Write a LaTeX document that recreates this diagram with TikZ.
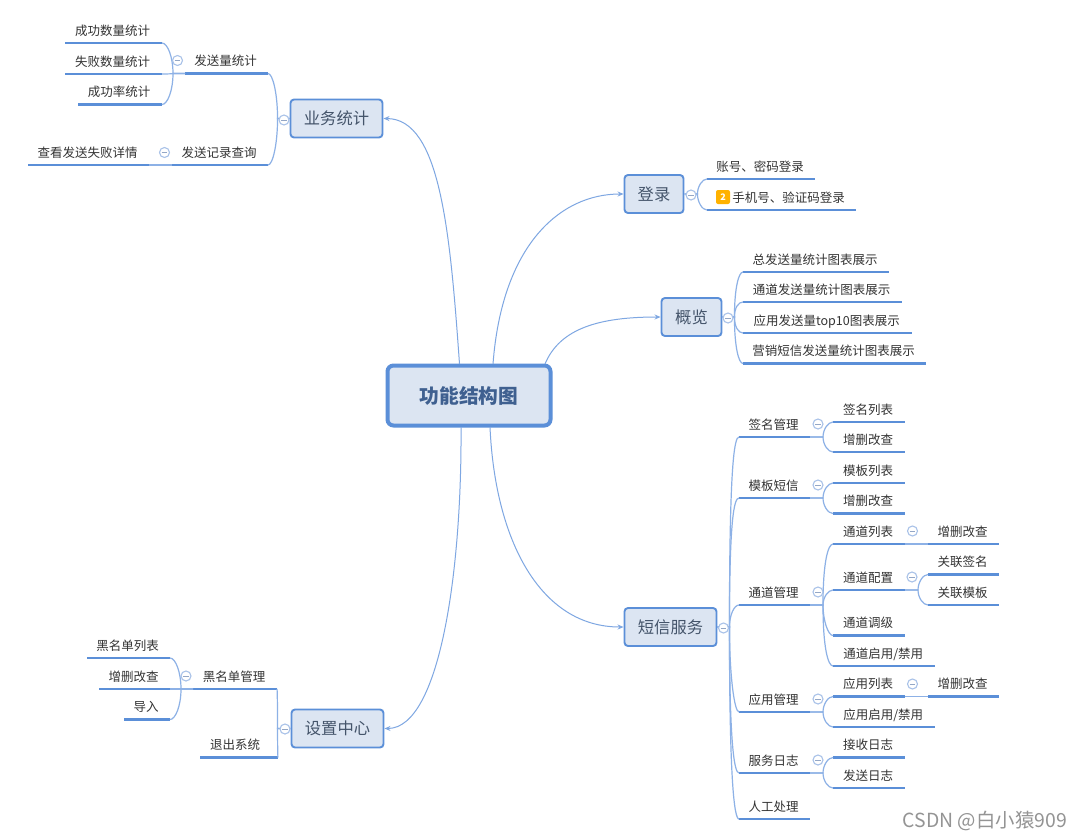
\documentclass[tikz,border=0pt]{standalone}
\usepackage{fontspec}
\setmainfont{Noto Sans CJK SC}
\usetikzlibrary{arrows.meta,calc}
\definecolor{lineblue}{HTML}{5B8FD8}
\definecolor{branchblue}{HTML}{8DB1E6}
\definecolor{boxfill}{HTML}{DCE5F2}
\definecolor{boxtext}{HTML}{44546A}
\definecolor{roottext}{HTML}{3F6090}
\definecolor{leaftext}{HTML}{333333}
\definecolor{foldline}{HTML}{A9C2E8}
\definecolor{foldminus}{HTML}{94A7C6}
\tikzset{
  topic/.style={inner sep=0pt,outer sep=0pt,minimum height=24,anchor=south west,
    font=\fontsize{12.5}{14}\selectfont,text=leaftext,text height=10.5,text depth=2},
  uline/.style={draw=lineblue,line width=2.8},
  branch/.style={draw=branchblue,line width=1.2},
  mainlink/.style={draw=branchblue!70!lineblue,line width=1,-{Stealth[length=6,width=5]}},
  boxl/.style={draw=lineblue,fill=boxfill,line width=1.9,rounded corners=3.5,inner sep=0pt,
    font=\fontsize{16.3}{18}\selectfont,text=boxtext},
  rootbox/.style={draw=lineblue,fill=boxfill,line width=4,rounded corners=6,inner sep=0pt,
    font=\fontsize{19.7}{22}\selectfont\bfseries,text=roottext},
  fold/.style={circle,draw=foldline,fill=white,line width=1.1,minimum size=10,inner sep=0pt,
    path picture={\draw[foldminus,line width=.8] ([xshift=-2.8pt]path picture bounding box.center) -- ([xshift=2.8pt]path picture bounding box.center);}},
  badge/.style={fill=orange!60!yellow,rounded corners=2,minimum size=14,inner sep=0pt,
    font=\fontsize{9}{10}\selectfont\bfseries,text=white},
  mark text/.style={font=\fontsize{19.4}{22}\selectfont,text=black!42,inner sep=0pt}
}
% how far along the spine the bend starts (set before a group of branches)
\newcommand{\bendat}{.5}
% shared curve: from (s), up or down the spine, into the child's line end
\newcommand{\bendto}[1]{.. controls ($(s)!\bendat!(s |- #1)$) and ($(s |- #1)!.5!(#1)$) .. (#1)}
% \topic{name}{x1}{x2}{y}{text}
\newcommand{\topic}[5]{%
  \node[topic,minimum width={#3-#2}] (#1) at (#2,#4) {\kern-1.6pt #5};
  \draw[uline] (#1.south west) -- (#1.south east);}
% right-going branch from a topic to a child
\newcommand{\rbr}[3]{\draw[branch] (#1.south east) -- ++(#3,0) coordinate (s) \bendto{#2.south west};}
% left-going branch from a topic to a child
\newcommand{\lbr}[3]{\draw[branch] (#1.south west) -- ++(-#3,0) coordinate (s) \bendto{#2.south east};}
% branches from a box
\newcommand{\rbx}[3]{\draw[branch] (#1.east) -- ++(#3,0) coordinate (s) \bendto{#2.south west};}
\newcommand{\lbx}[3]{\draw[branch] (#1.west) -- ++(-#3,0) coordinate (s) \bendto{#2.south east};}
\begin{document}
\begin{tikzpicture}[x=1pt,y=-1pt]
\useasboundingbox (0,0) rectangle (1082,839);
\fill[white] (0,0) rectangle (1082,839);

% root and first level
\node[rootbox,minimum width=163,minimum height=60] (root) at (469,395.5) {功能结构图};
\node[boxl,minimum width=59,minimum height=38] (login) at (654,194) {登录};
\node[boxl,minimum width=60,minimum height=38] (over) at (691.5,317) {概览};
\node[boxl,minimum width=92,minimum height=38] (sms) at (670.5,627) {短信服务};
\node[boxl,minimum width=92,minimum height=38] (stat) at (336.5,118.5) {业务统计};
\node[boxl,minimum width=92,minimum height=38] (setc) at (337.5,728.5) {设置中心};

\coordinate (ra) at (459.5,364);
\coordinate (rb) at (493,364);
\coordinate (rc) at (545,364);
\coordinate (rd) at (490,427);
\coordinate (re) at (461,427);
\draw[mainlink] (ra) .. controls (450,230) and (440,119) .. (stat.east);
\draw[mainlink] (rb) .. controls (502,245) and (560,194) .. (login.west);
\draw[mainlink] (rc) .. controls (560,328) and (600,317) .. (over.west);
\draw[mainlink] (rd) .. controls (495,540) and (540,627) .. (sms.west);
\draw[mainlink] (re) .. controls (462,570) and (440,728) .. (setc.east);

% login
\topic{la}{707}{815}{179}{账号、密码登录}
\topic{lb}{707}{856}{210}{\hspace*{16pt}手机号、验证码登录}
\node[badge] (lbadge) at (723,197) {2};
\rbx{login}{la}{13}
\rbx{login}{lb}{13}

% overview
\renewcommand{\bendat}{.65}
\topic{oa}{743}{889}{272}{总发送量统计图表展示}
\topic{ob}{743}{902}{302}{通道发送量统计图表展示}
\topic{oc}{743}{912}{333}{应用发送量top10图表展示}
\topic{od}{743}{926}{363.5}{营销短信发送量统计图表展示}
\rbx{over}{oa}{12}
\rbx{over}{ob}{12}
\rbx{over}{oc}{12}
\rbx{over}{od}{12}

% sms
\renewcommand{\bendat}{.85}
\topic{s1}{739}{810}{437}{签名管理}
\topic{s2}{739}{810}{498}{模板短信}
\topic{s3}{739}{810}{605}{通道管理}
\topic{s4}{739}{810}{712}{应用管理}
\topic{s5}{739}{810}{773}{服务日志}
\topic{s6}{739}{810}{819}{人工处理}
\rbx{sms}{s1}{12}
\rbx{sms}{s2}{12}
\renewcommand{\bendat}{.55}
\rbx{sms}{s3}{12}
\rbx{sms}{s4}{12}
\renewcommand{\bendat}{.8}
\rbx{sms}{s5}{12}
\rbx{sms}{s6}{12}

\renewcommand{\bendat}{.5}
\topic{s1a}{833}{905}{422}{签名列表}
\topic{s1b}{833}{905}{452}{增删改查}
\rbr{s1}{s1a}{13}
\rbr{s1}{s1b}{13}
\topic{s2a}{833}{905}{483}{模板列表}
\topic{s2b}{833}{905}{513.5}{增删改查}
\rbr{s2}{s2a}{13}
\rbr{s2}{s2b}{13}
\topic{s3a}{833}{905}{544}{通道列表}
\topic{s3b}{833}{905}{590}{通道配置}
\topic{s3c}{833}{905}{635.5}{通道调级}
\topic{s3d}{833}{935}{666}{通道启用/禁用}
\renewcommand{\bendat}{.7}
\rbr{s3}{s3a}{13}
\renewcommand{\bendat}{.5}
\rbr{s3}{s3b}{13}
\rbr{s3}{s3c}{13}
\renewcommand{\bendat}{.7}
\rbr{s3}{s3d}{13}
\renewcommand{\bendat}{.5}
\topic{s3aa}{928}{999}{544}{增删改查}
\draw[branch] (s3a.south east) -- (s3aa.south west);
\topic{s3ba}{928}{999}{574.5}{关联签名}
\topic{s3bb}{928}{999}{605}{关联模板}
\rbr{s3b}{s3ba}{13}
\rbr{s3b}{s3bb}{13}
\topic{s4a}{833}{905}{696.5}{应用列表}
\topic{s4b}{833}{935}{727}{应用启用/禁用}
\rbr{s4}{s4a}{13}
\rbr{s4}{s4b}{13}
\topic{s4aa}{928}{999}{696.5}{增删改查}
\draw[branch] (s4a.south east) -- (s4aa.south west);
\topic{s5a}{833}{905}{757.5}{接收日志}
\topic{s5b}{833}{905}{788}{发送日志}
\rbr{s5}{s5a}{13}
\rbr{s5}{s5b}{13}

% statistics
\renewcommand{\bendat}{.55}
\topic{ta}{185}{268}{73.5}{发送量统计}
\topic{tb}{172}{268}{165}{发送记录查询}
\lbx{stat}{ta}{12}
\lbx{stat}{tb}{12}
\topic{taa}{65}{162}{43}{成功数量统计}
\topic{tab}{65}{162}{74}{失败数量统计}
\topic{tac}{78}{162}{104.5}{成功率统计}
\lbr{ta}{taa}{12}
\lbr{ta}{tab}{12}
\lbr{ta}{tac}{12}
\topic{tba}{28}{149}{165}{查看发送失败详情}
\draw[branch] (tb.south west) -- (tba.south east);

% settings
\topic{ca}{193}{277}{689}{黑名单管理}
\topic{cb}{200}{278}{757.5}{\kern-6pt 退出系统}
\lbx{setc}{ca}{13}
\lbx{setc}{cb}{13}
\topic{caa}{87}{170}{658}{黑名单列表}
\topic{cab}{99}{170}{689}{增删改查}
\topic{cac}{124}{170}{719.5}{导入}
\lbr{ca}{caa}{12}
\lbr{ca}{cab}{12}
\lbr{ca}{cac}{12}

% fold markers
\foreach \p [count=\i] in {(691,195),(728,318),(723.5,628),(284,120),(285,729),
  (818,424),(818,485),(818,592),(818,699),(818,760),
  (912.5,531),(912,577),(912.5,684),
  (177.5,60.5),(164.5,152.5),(186,676)}
  \node[fold] (fold\i) at \p {};

\node[mark text,anchor=east] (wm) at (1067,821) {CSDN @白小猿909};
\end{tikzpicture}
\end{document}
